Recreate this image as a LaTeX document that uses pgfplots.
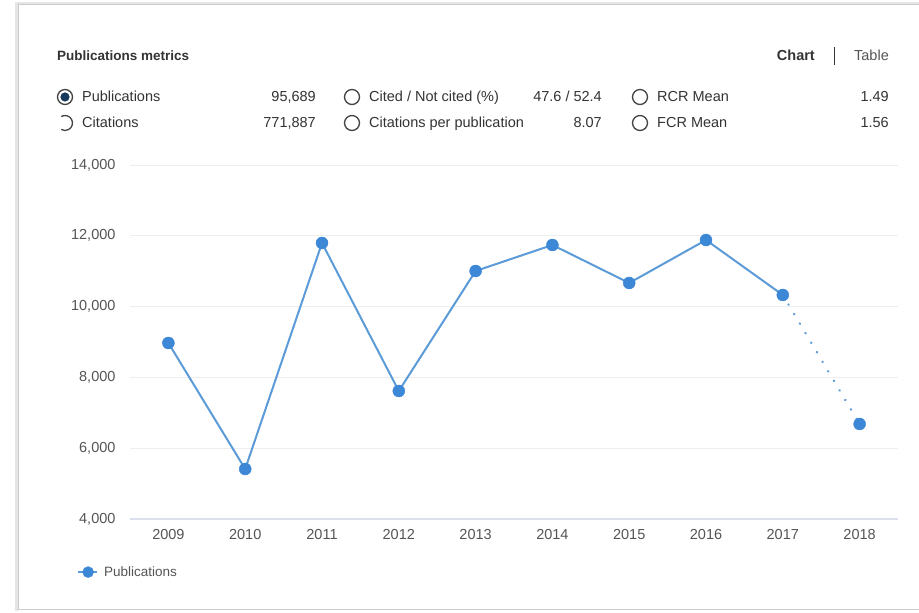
\documentclass[border=0pt]{standalone}
\usepackage{fontspec}
\setmainfont{Liberation Sans}
\usepackage{pgfplots}
\pgfplotsset{compat=1.18}

\definecolor{publine}{HTML}{5B9BD8}
\definecolor{pubmark}{HTML}{3C87D6}
\definecolor{txt}{HTML}{333333}
\definecolor{ticktxt}{HTML}{555555}
\definecolor{gridc}{HTML}{EEEEEE}
\definecolor{basec}{HTML}{DCDFEE}
\definecolor{radiofill}{HTML}{17395C}
\definecolor{radioline}{HTML}{444444}

\newcommand{\hdr}{\fontsize{14.5}{17}\selectfont}

\begin{document}
\begin{tikzpicture}[x=1pt,y=1pt]
\useasboundingbox (0,0) rectangle (919,613);
\fill[white] (0,0) rectangle (919,613);
% card
\draw[black!10, line width=3pt] (16,2) -- (16,609) -- (925,609);
\draw[black!20, line width=1pt] (18,3) rectangle (925,608);

% header
\node[anchor=base west, inner sep=0pt, font=\fontsize{13.5}{16}\selectfont\bfseries, text=txt] at (57,552) {Publications metrics};
\node[anchor=base east, inner sep=0pt, font=\hdr\bfseries, text=txt] at (815,552) {Chart};
\draw[txt, line width=1pt] (834,548) -- (834,566);
\node[anchor=base east, inner sep=0pt, font=\hdr, text=ticktxt] at (889,552) {Table};

% radio buttons
\draw[radioline, line width=1.3pt] (65,516) circle (7.5);
\fill[radiofill] (65,516) circle (4.6);
\draw[radioline, line width=1.3pt] (65,490) ++(120:7.5) arc[start angle=120, end angle=-120, radius=7.5];
\draw[radioline, line width=1.3pt] (352,516) circle (7.5);
\draw[radioline, line width=1.3pt] (352,490) circle (7.5);
\draw[radioline, line width=1.3pt] (640,516) circle (7.5);
\draw[radioline, line width=1.3pt] (640,490) circle (7.5);

\begin{scope}[every node/.style={font=\hdr, text=txt, inner sep=0pt}]
\node[anchor=base west] at (82,511) {Publications};
\node[anchor=base east] at (316,511) {95,689};
\node[anchor=base west] at (82,485) {Citations};
\node[anchor=base east] at (316,485) {771,887};
\node[anchor=base west] at (369,511) {Cited / Not cited (\%)};
\node[anchor=base east] at (602,511) {47.6 / 52.4};
\node[anchor=base west] at (369,485) {Citations per publication};
\node[anchor=base east] at (602,485) {8.07};
\node[anchor=base west] at (657,511) {RCR Mean};
\node[anchor=base east] at (889,511) {1.49};
\node[anchor=base west] at (657,485) {FCR Mean};
\node[anchor=base east] at (889,485) {1.56};
\end{scope}

\begin{axis}[
    at={(130pt,94pt)}, anchor=south west,
    scale only axis, width=768pt, height=354pt,
    xmin=2008.5, xmax=2018.5,
    ymin=4000, ymax=14000,
    axis line style={draw=none},
    major tick length=0pt,
    xtick={2009,2010,2011,2012,2013,2014,2015,2016,2017,2018},
    xticklabels={2009,2010,2011,2012,2013,2014,2015,2016,2017,2018},
    ytick={6000,8000,10000,12000,14000},
    scaled y ticks=false,
    extra y ticks={4000},
    extra y tick style={grid style={basec, line width=1.3pt}},
    ymajorgrids=true,
    grid style={gridc, line width=0.8pt},
    tick label style={font=\fontsize{14.5}{17}\selectfont, text=ticktxt},
    yticklabel style={xshift=-11pt},
    xticklabel style={yshift=-7pt},
    /pgf/number format/.cd, 1000 sep={,}, assume math mode=true,
    /pgfplots/.cd,
    legend style={at={(-0.073,-0.15)}, anchor=west, draw=none, fill=none,
        font=\fontsize{13.5}{16}\selectfont, text=ticktxt},
    legend image code/.code={
        \draw[publine, line width=2pt] (0pt,0pt) -- (19pt,0pt);
        \fill[pubmark] (10pt,0pt) circle (5.5pt);
    },
    legend cell align=left,
    clip=false,
]
\addplot[publine, line width=2pt, mark=none, forget plot] coordinates {
    (2009,8972) (2010,5412) (2011,11797) (2012,7616) (2013,11006)
    (2014,11740) (2015,10667) (2016,11881) (2017,10328)
};
\addplot[publine, line width=2.6pt, line cap=round, dash pattern=on 0.1pt off 11pt, mark=none, forget plot] coordinates {
    (2017,10328) (2018,6684)
};
\addplot[only marks, mark=*, mark size=6pt, mark options={pubmark, draw=pubmark}] coordinates {
    (2009,8972) (2010,5412) (2011,11797) (2012,7616) (2013,11006)
    (2014,11740) (2015,10667) (2016,11881) (2017,10328) (2018,6684)
};
\addlegendentry{\hspace{4pt}Publications}
\end{axis}
\end{tikzpicture}
\end{document}
